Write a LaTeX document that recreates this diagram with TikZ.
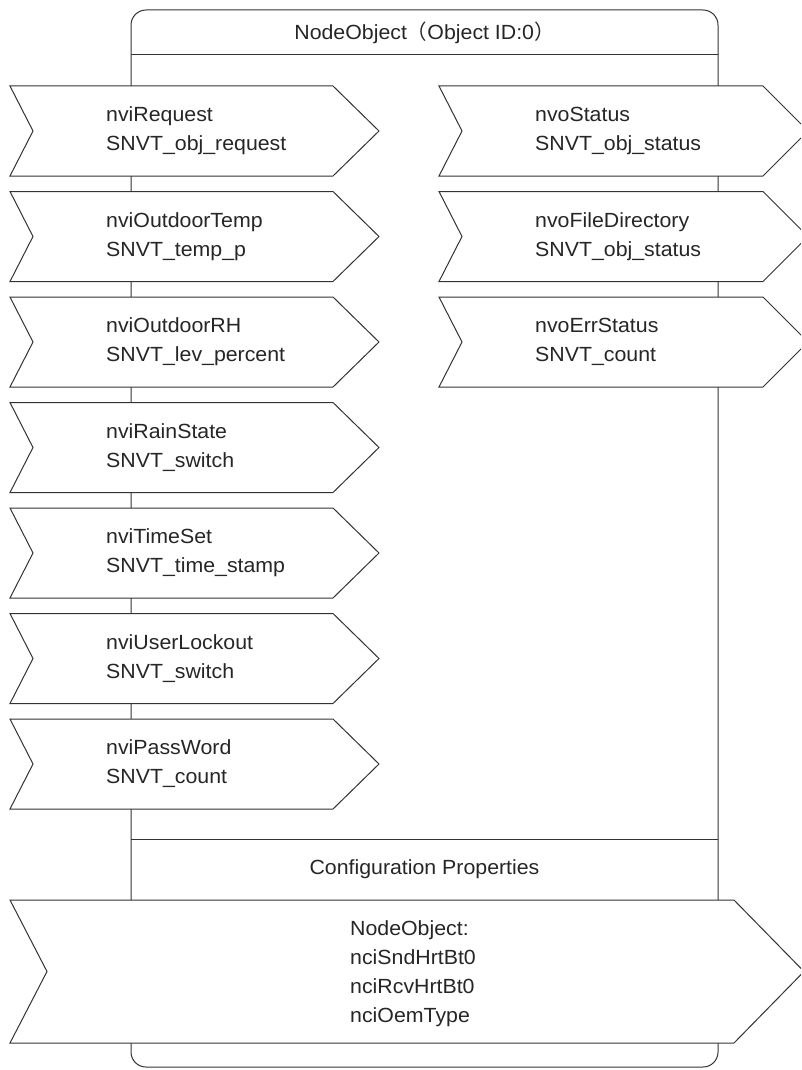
\documentclass[tikz,border=0pt]{standalone}
\usepackage{fontspec}
\setmainfont[FakeStretch=1.04]{Liberation Sans}
\newfontfamily\jpfont{Noto Sans CJK JP}
\usepackage{tikz}
\usetikzlibrary{positioning}
\tikzstyle{frame}=[draw=black!80,line width=1pt]
\tikzstyle{port}=[draw=black!80,fill=white,line width=1pt,line join=miter]

\begin{document}
\begin{tikzpicture}[
  x=1pt,y=-1pt,
  lbl/.style={anchor=west,align=left,inner sep=0pt,text=black!85,font=\fontsize{20.5}{29}\selectfont},
  title/.style={inner sep=0pt,text=black!85,font=\fontsize{20.5}{29}\selectfont},
]
\useasboundingbox (0,0) rectangle (801,1070);
\clip (0,0) rectangle (801,1070);
% object frame
\draw[frame,rounded corners=15pt] (131,10) rectangle (718,1067);
\draw[frame] (131,55) -- (718,55);
\draw[frame] (131,839) -- (718,839);
\node[title] (obj) at (424.5,33) {NodeObject{\jpfont （}Object ID:0{\jpfont ）}};
\node[title] (cfg) at (424.5,869) {Configuration Properties};
% input variables
\draw[port] (10,86) -- (333,86) -- (379,131) -- (333,176) -- (10,176) -- (33,131) -- cycle;
\node[lbl] (req) at (106,131) {nviRequest\\SNVT\_obj\_request};
\draw[port] (10,191.5) -- (333,191.5) -- (379,236.5) -- (333,281.5) -- (10,281.5) -- (33,236.5) -- cycle;
\node[lbl] (temp) at (106,236.5) {nviOutdoorTemp\\SNVT\_temp\_p};
\draw[port] (10,297) -- (333,297) -- (379,342) -- (333,387) -- (10,387) -- (33,342) -- cycle;
\node[lbl] (rh) at (106,342) {nviOutdoorRH\\SNVT\_lev\_percent};
\draw[port] (10,402.5) -- (333,402.5) -- (379,447.5) -- (333,492.5) -- (10,492.5) -- (33,447.5) -- cycle;
\node[lbl] (rain) at (106,447.5) {nviRainState\\SNVT\_switch};
\draw[port] (10,508) -- (333,508) -- (379,553) -- (333,598) -- (10,598) -- (33,553) -- cycle;
\node[lbl] (time) at (106,553) {nviTimeSet\\SNVT\_time\_stamp};
\draw[port] (10,613.5) -- (333,613.5) -- (379,658.5) -- (333,703.5) -- (10,703.5) -- (33,658.5) -- cycle;
\node[lbl] (lock) at (106,658.5) {nviUserLockout\\SNVT\_switch};
\draw[port] (10,719) -- (333,719) -- (379,764) -- (333,809) -- (10,809) -- (33,764) -- cycle;
\node[lbl] (pass) at (106,764) {nviPassWord\\SNVT\_count};
% output variables
\draw[port] (439,86) -- (763,86) -- (808,131) -- (763,176) -- (439,176) -- (462,131) -- cycle;
\node[lbl] (stat) at (535,131) {nvoStatus\\SNVT\_obj\_status};
\draw[port] (439,191.5) -- (763,191.5) -- (808,236.5) -- (763,281.5) -- (439,281.5) -- (462,236.5) -- cycle;
\node[lbl] (dir) at (535,236.5) {nvoFileDirectory\\SNVT\_obj\_status};
\draw[port] (439,297) -- (763,297) -- (808,342) -- (763,387) -- (439,387) -- (462,342) -- cycle;
\node[lbl] (err) at (535,342) {nvoErrStatus\\SNVT\_count};
% configuration properties
\draw[port] (10,900) -- (734,900) -- (804,971.5) -- (734,1043) -- (10,1043) -- (47,971.5) -- cycle;
\node[lbl] (nci) at (350,974) {NodeObject:\\nciSndHrtBt0\\nciRcvHrtBt0\\nciOemType};
\end{tikzpicture}
\end{document}
